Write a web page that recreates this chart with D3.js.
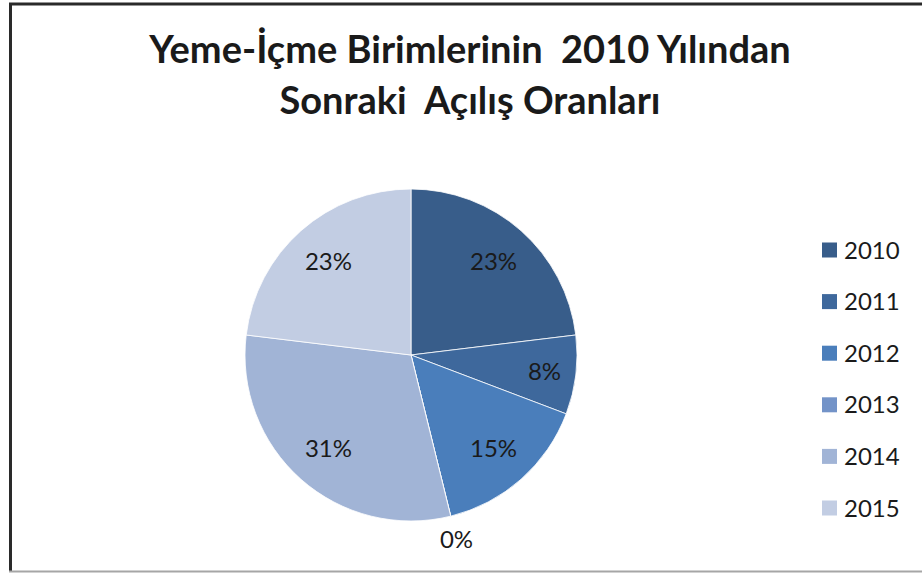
<!DOCTYPE html>
<html>
<head>
<meta charset="utf-8">
<script src="https://cdn.jsdelivr.net/npm/d3@7"></script>
<style>
  body { margin: 0; background: #fff; }
  text { font-family: Lato, "Open Sans", sans-serif; fill: #1a1a1a; }
</style>
</head>
<body>
<script>
'use strict';

// data
const years = ['2010', '2011', '2012', '2013', '2014', '2015']
const openings = [3, 1, 2, 0, 4, 3]
const sliceColors = ['#385D8A', '#3E689C', '#4A7EBB', '#7393C8', '#A1B4D6', '#C2CDE3']
const titleLines = ['Yeme-İçme Birimlerinin  2010 Yılından', 'Sonraki  Açılış Oranları']

const m = {
  width: 922,
  height: 573,
  cx: 411,
  cy: 355,
  r: 166
}

const svg = d3.select('body')
  .append('svg')
  .attr('width', m.width)
  .attr('height', m.height)

// frame
svg.append('rect')
  .attr('x', 0).attr('y', 0)
  .attr('width', m.width).attr('height', m.height)
  .style('fill', '#fff')
svg.append('line')
  .attr('x1', 9).attr('y1', 4).attr('x2', m.width).attr('y2', 4)
  .style('stroke', '#2a2a2a').style('stroke-width', 3)
svg.append('line')
  .attr('x1', 10.5).attr('y1', 3).attr('x2', 10.5).attr('y2', 572)
  .style('stroke', '#2a2a2a').style('stroke-width', 3)
svg.append('line')
  .attr('x1', 9).attr('y1', 571.5).attr('x2', m.width).attr('y2', 571.5)
  .style('stroke', '#a6a6a6').style('stroke-width', 2)

// title
titleLines.forEach((t, i) => {
  svg.append('text')
    .attr('x', 470)
    .attr('y', 63 + i * 51)
    .style('text-anchor', 'middle')
    .style('font-size', '38px')
    .style('font-weight', 'bold')
    .style('white-space', 'pre')
    .text(t)
})

// pie
const total = d3.sum(openings)
const pie = d3.pie().sort(null).value((d) => d)
const arcs = pie(openings)
const arc = d3.arc().innerRadius(0).outerRadius(m.r)
const labelArc = d3.arc().innerRadius(m.r * 0.75).outerRadius(m.r * 0.75)
const narrowArc = d3.arc().innerRadius(m.r * 0.81).outerRadius(m.r * 0.81)
const outerArc = d3.arc().innerRadius(m.r + 24).outerRadius(m.r + 24)

const g = svg.append('g')
  .attr('transform', 'translate(' + m.cx + ',' + m.cy + ')')

g.selectAll('path')
  .data(arcs)
  .enter()
  .append('path')
    .attr('d', arc)
    .style('fill', (d, i) => sliceColors[i])
    .style('stroke', '#fff')
    .style('stroke-width', 0.8)

g.selectAll('.lbl')
  .data(arcs)
  .enter()
  .append('text')
    .attr('class', 'lbl')
    .attr('transform', (d) => {
      let share = d.value / total
      let c = share == 0 ? outerArc.centroid(d)
        : share < 0.1 ? narrowArc.centroid(d)
        : labelArc.centroid(d)
      return 'translate(' + c[0] + ',' + c[1] + ')'
    })
    .attr('dy', '0.36em')
    .style('text-anchor', 'middle')
    .style('font-size', '24px')
    .text((d) => Math.round(d.value / total * 100) + '%')

// legend
const yLeg = d3.scalePoint()
  .domain(years)
  .range([250, 508])

const legend = svg.selectAll('.legend')
  .data(years)
  .enter()
  .append('g')
    .attr('class', 'legend')
    .attr('transform', (d) => 'translate(0,' + yLeg(d) + ')')

legend.append('rect')
  .attr('x', 822)
  .attr('y', -7.5)
  .attr('width', 15)
  .attr('height', 15)
  .style('fill', (d, i) => sliceColors[i])

legend.append('text')
  .attr('x', 844)
  .attr('y', 0)
  .attr('dy', '0.36em')
  .style('font-size', '24px')
  .text((d) => d)
</script>
</body>
</html>
